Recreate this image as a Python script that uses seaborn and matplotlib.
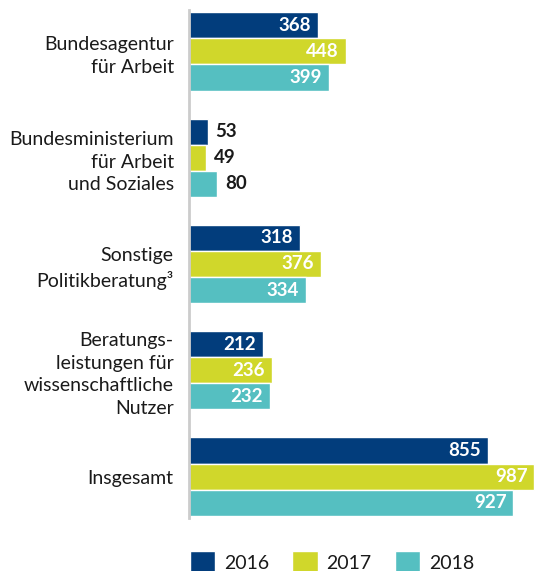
import pandas as pd
import seaborn as sns
import matplotlib.pyplot as plt
from matplotlib.patches import Patch

# daten
kategorien = ['Bundesagentur\nfür Arbeit',
              'Bundesministerium\nfür Arbeit\nund Soziales',
              'Sonstige\nPolitikberatung³',
              'Beratungs-\nleistungen für\nwissenschaftliche\nNutzer',
              'Insgesamt']
jahre = ['2016', '2017', '2018']
werte_2016 = [368, 53, 318, 212, 855]
werte_2017 = [448, 49, 376, 236, 987]
werte_2018 = [399, 80, 334, 232, 927]
farben = ['#023d7c', '#d0d72b', '#55bfc1']

df = pd.DataFrame({
    'kategorie': kategorien * 3,
    'jahr': [j for j in jahre for _ in kategorien],
    'wert': werte_2016 + werte_2017 + werte_2018,
})

sns.set_style('white')
plt.rcParams['font.family'] = ['Lato', 'DejaVu Sans']

fig = plt.figure(figsize=(5.39, 5.71), dpi=100)
ax = fig.add_axes([189 / 539, 1 - 518 / 571, 1 - 189 / 539, (518 - 10) / 571])

sns.barplot(data=df, x='wert', y='kategorie', hue='jahr', orient='h',
            palette=farben, saturation=1, width=0.736, gap=0,
            legend=False, ax=ax)

ax.set_xlim(0, 1000)
ax.set_ylim(4.39, -0.39)
ax.set(xlabel='', ylabel='')
ax.set_xticks([])
ax.tick_params(axis='y', length=0, pad=11, labelsize=14, labelcolor='#1a1a1a')
for lbl in ax.get_yticklabels():
    lbl.set_ha('right')
    lbl.set_linespacing(1.4)

for s in ['top', 'right', 'bottom']:
    ax.spines[s].set_visible(False)
ax.spines['left'].set_color('#cccccc')
ax.spines['left'].set_linewidth(2)

# wertbeschriftungen
for cont in ax.containers:
    for p in cont:
        w = p.get_width()
        yc = p.get_y() + p.get_height() / 2
        if w < 150:
            ax.annotate(f'{int(w)}', (w, yc), xytext=(8, 0), textcoords='offset pixels',
                        ha='left', va='center', color='#1a1a1a', fontsize=13.5, fontweight='bold')
        else:
            ax.annotate(f'{int(w)}', (w, yc), xytext=(-7, 0), textcoords='offset pixels',
                        ha='right', va='center', color='white', fontsize=13.5, fontweight='bold')

handles = [Patch(facecolor=c, label=j) for c, j in zip(farben, jahre)]
fig.legend(handles=handles, loc='center left', bbox_to_anchor=(190 / 539, 1 - 562 / 571),
           ncol=3, frameon=False, fontsize=14, handlelength=1.3, handleheight=1.3,
           columnspacing=1.2, handletextpad=0.45, borderpad=0, borderaxespad=0,
           labelcolor='#1a1a1a')

plt.savefig('out.png', dpi=100)
